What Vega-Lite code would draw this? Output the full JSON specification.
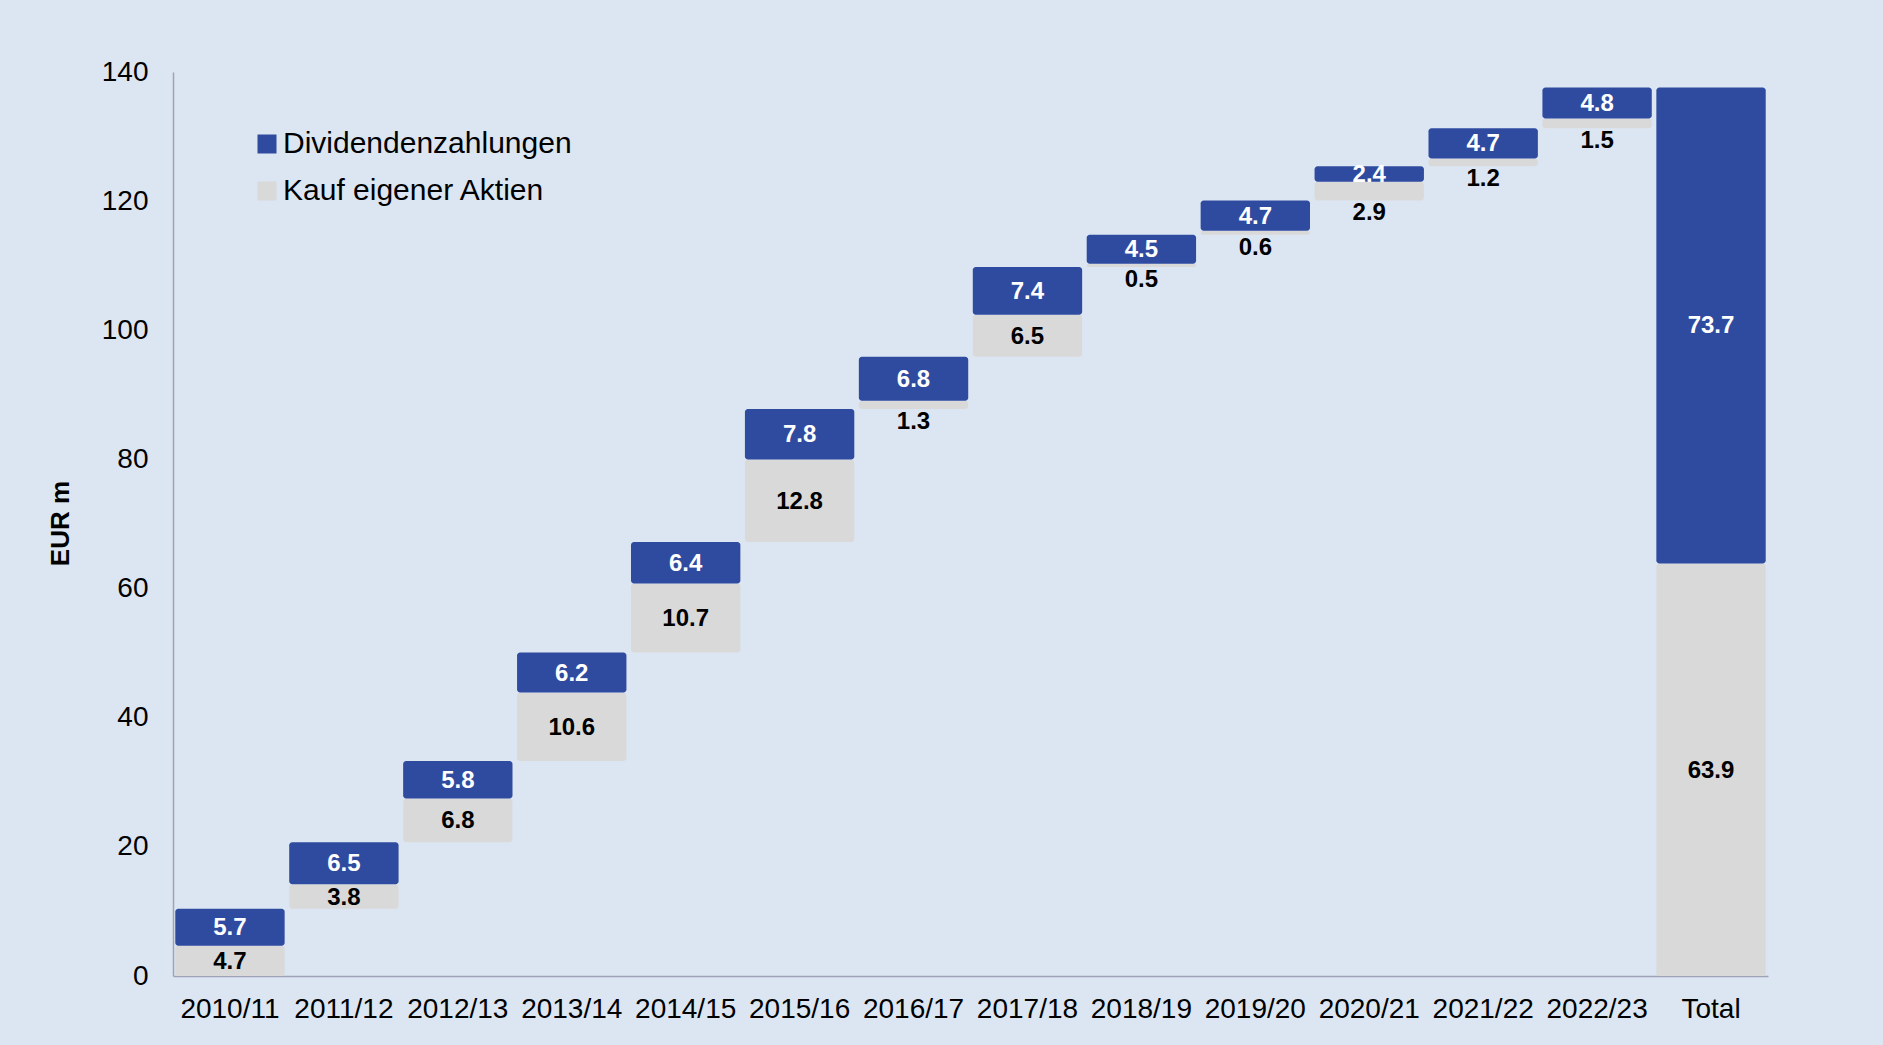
{
  "$schema": "https://vega.github.io/schema/vega-lite/v6.json",
  "autosize": {"type": "none"},
  "width": 1595,
  "height": 904,
  "padding": {"left": 173, "top": 72, "right": 115, "bottom": 69},
  "background": "#dce6f2",
  "config": {
    "view": {"stroke": null},
    "font": "Liberation Sans"
  },
  "data": {
    "values": [
      {"period": "2010/11", "group": "Jahre", "type": "Kauf eigener Aktien", "value": 4.7},
      {"period": "2010/11", "group": "Jahre", "type": "Dividendenzahlungen", "value": 5.7},
      {"period": "2011/12", "group": "Jahre", "type": "Kauf eigener Aktien", "value": 3.8},
      {"period": "2011/12", "group": "Jahre", "type": "Dividendenzahlungen", "value": 6.5},
      {"period": "2012/13", "group": "Jahre", "type": "Kauf eigener Aktien", "value": 6.8},
      {"period": "2012/13", "group": "Jahre", "type": "Dividendenzahlungen", "value": 5.8},
      {"period": "2013/14", "group": "Jahre", "type": "Kauf eigener Aktien", "value": 10.6},
      {"period": "2013/14", "group": "Jahre", "type": "Dividendenzahlungen", "value": 6.2},
      {"period": "2014/15", "group": "Jahre", "type": "Kauf eigener Aktien", "value": 10.7},
      {"period": "2014/15", "group": "Jahre", "type": "Dividendenzahlungen", "value": 6.4},
      {"period": "2015/16", "group": "Jahre", "type": "Kauf eigener Aktien", "value": 12.8},
      {"period": "2015/16", "group": "Jahre", "type": "Dividendenzahlungen", "value": 7.8},
      {"period": "2016/17", "group": "Jahre", "type": "Kauf eigener Aktien", "value": 1.3},
      {"period": "2016/17", "group": "Jahre", "type": "Dividendenzahlungen", "value": 6.8},
      {"period": "2017/18", "group": "Jahre", "type": "Kauf eigener Aktien", "value": 6.5},
      {"period": "2017/18", "group": "Jahre", "type": "Dividendenzahlungen", "value": 7.4},
      {"period": "2018/19", "group": "Jahre", "type": "Kauf eigener Aktien", "value": 0.5},
      {"period": "2018/19", "group": "Jahre", "type": "Dividendenzahlungen", "value": 4.5},
      {"period": "2019/20", "group": "Jahre", "type": "Kauf eigener Aktien", "value": 0.6},
      {"period": "2019/20", "group": "Jahre", "type": "Dividendenzahlungen", "value": 4.7},
      {"period": "2020/21", "group": "Jahre", "type": "Kauf eigener Aktien", "value": 2.9},
      {"period": "2020/21", "group": "Jahre", "type": "Dividendenzahlungen", "value": 2.4},
      {"period": "2021/22", "group": "Jahre", "type": "Kauf eigener Aktien", "value": 1.2},
      {"period": "2021/22", "group": "Jahre", "type": "Dividendenzahlungen", "value": 4.7},
      {"period": "2022/23", "group": "Jahre", "type": "Kauf eigener Aktien", "value": 1.5},
      {"period": "2022/23", "group": "Jahre", "type": "Dividendenzahlungen", "value": 4.8},
      {"period": "Total", "group": "Total", "type": "Kauf eigener Aktien", "value": 63.9},
      {"period": "Total", "group": "Total", "type": "Dividendenzahlungen", "value": 73.7}
    ]
  },
  "transform": [
    {"window": [{"op": "sum", "field": "value", "as": "end"}], "frame": [null, 0], "groupby": ["group"]},
    {"calculate": "datum.end - datum.value", "as": "start"},
    {"calculate": "(datum.start + datum.end) / 2", "as": "mid"}
  ],
  "encoding": {
    "x": {
      "field": "period",
      "type": "nominal",
      "sort": null,
      "scale": {"paddingInner": 0.04, "paddingOuter": 0.02},
      "axis": {
        "title": null,
        "labelAngle": 0,
        "labelFontSize": 28,
        "labelColor": "#000000",
        "ticks": false,
        "tickSize": 0,
        "labelPadding": 19,
        "domainColor": "#9ea3b8",
        "domainWidth": 1.5
      }
    }
  },
  "layer": [
    {
      "mark": {"type": "bar", "cornerRadius": 3},
      "encoding": {
        "y": {
          "field": "end",
          "type": "quantitative",
          "scale": {"domain": [0, 140]},
          "axis": {
            "title": "EUR m",
            "titleFontSize": 26,
            "titleFontWeight": "bold",
            "titleColor": "#000000",
            "titleAngle": -90,
            "titleX": -113,
            "titleY": 451,
            "titleAlign": "center",
            "titleBaseline": "middle",
            "values": [0, 20, 40, 60, 80, 100, 120, 140],
            "labelFontSize": 28,
            "labelColor": "#000000",
            "labelPadding": 25,
            "ticks": false,
            "tickSize": 0,
            "grid": false,
            "domainColor": "#9ea3b8",
            "domainWidth": 1.5
          }
        },
        "y2": {"field": "start"},
        "color": {
          "field": "type",
          "type": "nominal",
          "scale": {
            "domain": ["Dividendenzahlungen", "Kauf eigener Aktien"],
            "range": ["#2f4b9f", "#d9d9d9"]
          },
          "legend": {
            "title": null,
            "orient": "none",
            "legendX": 79,
            "legendY": 57,
            "padding": 0,
            "symbolType": "square",
            "symbolSize": 361,
            "symbolStrokeWidth": 0,
            "labelFontSize": 30,
            "labelLimit": 0,
            "labelColor": "#000000",
            "labelOffset": 1,
            "rowPadding": 17
          }
        }
      }
    },
    {
      "transform": [{"filter": "datum.type == 'Dividendenzahlungen'"}],
      "mark": {"type": "text", "fontSize": 24, "fontWeight": "bold", "color": "#ffffff", "baseline": "middle", "dy": 1},
      "encoding": {
        "y": {"field": "mid", "type": "quantitative"},
        "text": {"field": "value", "type": "quantitative", "format": ".1f"}
      }
    },
    {
      "transform": [{"filter": "datum.type == 'Kauf eigener Aktien' && datum.value >= 3.5"}],
      "mark": {"type": "text", "fontSize": 24, "fontWeight": "bold", "color": "#000000", "baseline": "middle", "dy": 1},
      "encoding": {
        "y": {"field": "mid", "type": "quantitative"},
        "text": {"field": "value", "type": "quantitative", "format": ".1f"}
      }
    },
    {
      "transform": [{"filter": "datum.type == 'Kauf eigener Aktien' && datum.value < 3.5"}],
      "mark": {"type": "text", "fontSize": 24, "fontWeight": "bold", "color": "#000000", "baseline": "middle", "dy": 13},
      "encoding": {
        "y": {"field": "start", "type": "quantitative"},
        "text": {"field": "value", "type": "quantitative", "format": ".1f"}
      }
    }
  ]
}
